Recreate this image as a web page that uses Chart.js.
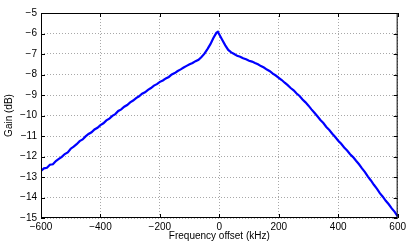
<!DOCTYPE html>
<html>
<head>
<meta charset="utf-8">
<script src="https://cdn.jsdelivr.net/npm/chart.js@4"></script>
<style>
  html, body { margin: 0; padding: 0; background: #fff; }
  #wrap { width: 409px; height: 242px; }
</style>
</head>
<body>
<div id="wrap"><canvas id="gain-chart"></canvas></div>
<script>
const freqKHz = [
  -600, -590, -580, -570, -560, -550, -540, -530, -520, -510,
  -500, -490, -480, -470, -460, -450, -440, -430, -420, -410,
  -400, -390, -380, -370, -360, -350, -340, -330, -320, -310,
  -300, -290, -280, -270, -260, -250, -240, -230, -220, -210,
  -200, -190, -180, -170, -160, -150, -140, -130, -120, -110,
  -100, -90, -80, -70, -60, -50, -40, -30, -20, -10, -5,
  0, 10, 20, 30, 40, 50, 60, 70, 80, 90,
  100, 110, 120, 130, 140, 150, 160, 170, 180, 190,
  200, 210, 220, 230, 240, 250, 260, 270, 280, 290,
  300, 310, 320, 330, 340, 350, 360, 370, 380, 390,
  400, 410, 420, 430, 440, 450, 460, 470, 480, 490,
  500, 510, 520, 530, 540, 550, 560, 570, 580, 590, 600,
];

const gainDb = [
  -12.70, -12.58, -12.55, -12.40, -12.38, -12.22, -12.12, -12.02, -11.88, -11.80,
  -11.62, -11.52, -11.40, -11.25, -11.17, -11.02, -10.90, -10.82, -10.68, -10.60,
  -10.47, -10.38, -10.24, -10.15, -10.02, -9.93, -9.78, -9.70, -9.57, -9.49,
  -9.36, -9.27, -9.15, -9.06, -8.94, -8.87, -8.75, -8.66, -8.54, -8.47,
  -8.36, -8.29, -8.19, -8.12, -8.00, -7.93, -7.83, -7.75, -7.66, -7.58,
  -7.50, -7.44, -7.35, -7.28, -7.15, -6.98, -6.76, -6.52, -6.22, -5.97, -5.92,
  -6.05, -6.32, -6.58, -6.80, -6.92, -7.00, -7.09, -7.13, -7.21, -7.26,
  -7.33, -7.37, -7.44, -7.50, -7.59, -7.66, -7.76, -7.84, -7.96, -8.05,
  -8.16, -8.27, -8.40, -8.52, -8.66, -8.77, -8.93, -9.05, -9.22, -9.36,
  -9.52, -9.70, -9.87, -10.04, -10.22, -10.37, -10.56, -10.71, -10.89, -11.05,
  -11.23, -11.38, -11.56, -11.71, -11.89, -12.03, -12.21, -12.38, -12.58, -12.76,
  -12.98, -13.17, -13.38, -13.57, -13.79, -13.96, -14.16, -14.33, -14.53, -14.70, -14.92,
];

const xTicks = [-600, -400, -200, 0, 200, 400, 600];
const yTicks = [-15, -14, -13, -12, -11, -10, -9, -8, -7, -6, -5];

const fontFamily = '"Liberation Sans", Arial, Helvetica, sans-serif';
const minus = (v) => String(v).replace('-', '\u2212');

// matlab style box with inward ticks
const boxPlugin = {
  id: 'box',
  afterDraw(chart) {
    const { ctx, chartArea: a, scales } = chart;
    ctx.save();
    ctx.strokeStyle = '#000';
    ctx.lineWidth = 1;
    ctx.strokeRect(a.left + 0.5, a.top + 0.5, a.right - a.left - 1, a.bottom - a.top - 1);
    ctx.beginPath();
    const len = 4;
    xTicks.forEach((t) => {
      const x = Math.round(scales.x.getPixelForValue(t)) + 0.5;
      ctx.moveTo(x, a.bottom);
      ctx.lineTo(x, a.bottom - len);
      ctx.moveTo(x, a.top);
      ctx.lineTo(x, a.top + len);
    });
    yTicks.forEach((t) => {
      const y = Math.round(scales.y.getPixelForValue(t)) + 0.5;
      ctx.moveTo(a.left, y);
      ctx.lineTo(a.left + len, y);
      ctx.moveTo(a.right, y);
      ctx.lineTo(a.right - len, y);
    });
    ctx.stroke();
    ctx.restore();
  },
};

new Chart(document.getElementById('gain-chart'), {
  type: 'line',
  data: {
    datasets: [{
      data: freqKHz.map((f, i) => ({ x: f, y: gainDb[i] })),
      borderColor: '#0000ff',
      borderWidth: 2.2,
      pointRadius: 0,
      tension: 0,
      fill: false,
    }],
  },
  options: {
    responsive: true,
    maintainAspectRatio: false,
    animation: false,
    layout: { padding: { left: 3, right: 8, top: 13, bottom: 0 } },
    plugins: {
      legend: { display: false },
      tooltip: { enabled: false },
    },
    scales: {
      x: {
        type: 'linear',
        min: -600,
        max: 600,
        afterBuildTicks: (s) => { s.ticks = xTicks.map((v) => ({ value: v })); },
        afterFit: (s) => { s.height = 24; },
        grid: { color: '#a8a8a8', drawTicks: false },
        border: { display: false, dash: [1, 2] },
        ticks: {
          color: '#000',
          padding: 3,
          maxRotation: 0,
          font: { family: fontFamily, size: 10 },
          callback: (v) => minus(v),
        },
        title: {
          display: true,
          text: 'Frequency offset (kHz)',
          color: '#000',
          padding: 0,
          font: { family: fontFamily, size: 10 },
        },
      },
      y: {
        min: -15,
        max: -5,
        afterBuildTicks: (s) => { s.ticks = yTicks.map((v) => ({ value: v })); },
        afterFit: (s) => { s.width = 38; },
        grid: { color: '#a8a8a8', drawTicks: false },
        border: { display: false, dash: [1, 2] },
        ticks: {
          color: '#000',
          padding: 4,
          font: { family: fontFamily, size: 10 },
          callback: (v) => minus(v),
        },
        title: {
          display: true,
          text: 'Gain (dB)',
          color: '#000',
          padding: 0,
          font: { family: fontFamily, size: 10 },
        },
      },
    },
  },
  plugins: [boxPlugin],
});
</script>
</body>
</html>
